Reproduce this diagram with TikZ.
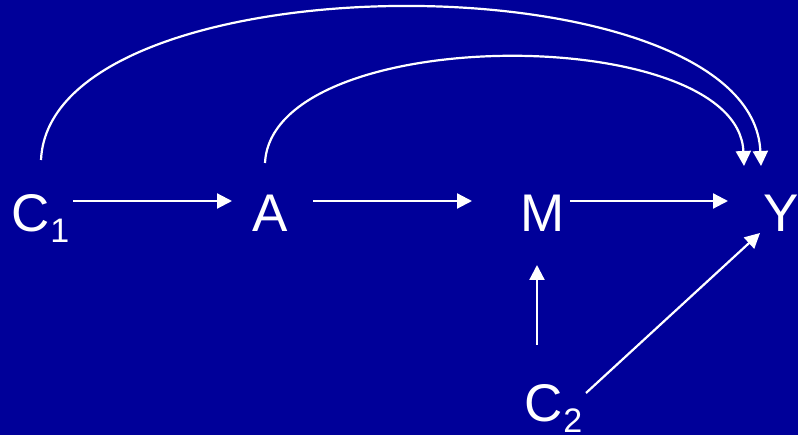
\documentclass[tikz,border=0pt]{standalone}
\usepackage{fontspec}
\setmainfont{Liberation Sans}
\usetikzlibrary{arrows.meta}
\definecolor{slideblue}{RGB}{0,0,153}
% variable name with a lowered index
\newcommand{\lbl}[2]{#1\kern1pt\raisebox{-11pt}{\fontsize{34}{34}\selectfont #2}}
\begin{document}
\begin{tikzpicture}[x=1pt,y=-1pt,
  var/.style={anchor=base west,inner sep=0pt,text=white,font=\fontsize{53}{53}\selectfont},
  arr/.style={draw=white,line width=2.2pt,-{Triangle[length=15pt,width=15pt]}}]
  \fill[slideblue] (0,0) rectangle (798,435);
  \useasboundingbox (0,0) rectangle (798,435);

  % variables
  \node[var] (c1) at (11,232) {\lbl{C}{1}};
  \node[var] (a)  at (252,232) {A};
  \node[var] (m)  at (520,232) {M};
  \node[var] (y)  at (763,232) {Y};
  \node[var] (c2) at (524,422) {\lbl{C}{2}};

  % straight paths
  \draw[arr] ([shift={(62,-31)}]c1.base west) -- ([shift={(-20,-31)}]a.base west);
  \draw[arr] ([shift={(61,-31)}]a.base west) -- ([shift={(-48,-31)}]m.base west);
  \draw[arr] ([shift={(50,-31)}]m.base west) -- ([shift={(-35,-31)}]y.base west);
  \draw[arr] ([shift={(13,-77)}]c2.base west) -- ([shift={(17,33)}]m.base west);
  \draw[arr] ([shift={(62,-29)}]c2.base west) -- ([shift={(-3,1)}]y.base west);

  % curved paths into Y
  \draw[arr] ([shift={(30,-72)}]c1.base west)
     .. controls (50,-44) and (752,-44) .. ([shift={(-2,-66)}]y.base west);
  \draw[arr] ([shift={(13,-69)}]a.base west)
     .. controls (272,22) and (738,22) .. ([shift={(-19,-66)}]y.base west);
\end{tikzpicture}
\end{document}
